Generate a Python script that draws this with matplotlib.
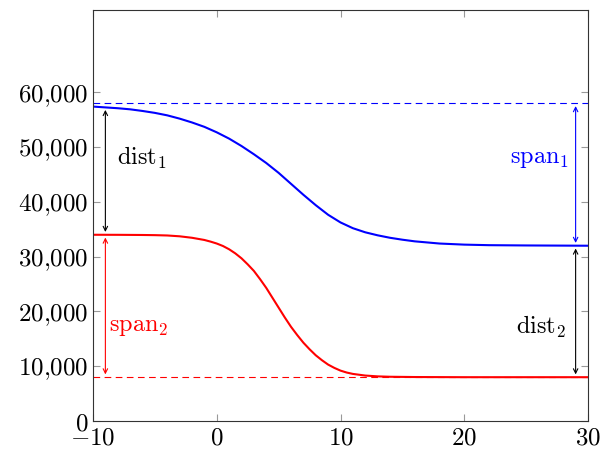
import matplotlib
matplotlib.use("Agg")
import matplotlib.pyplot as plt
from matplotlib.ticker import FuncFormatter

plt.rcParams.update({
    "font.family": "serif",
    "font.serif": ["DejaVu Serif"],
    "mathtext.fontset": "cm",
    "font.size": 18,
})

# curves
x_blue = [-10, -9, -8, -7, -6, -5, -4, -3, -2, -1, 0, 1, 2, 3, 4, 5, 6, 7, 8, 9, 10,
          11, 12, 13, 14, 15, 16, 18, 20, 22, 25, 30]
y_blue = [57400, 57250, 57100, 56900, 56600, 56250, 55800, 55200, 54500, 53700, 52700,
          51550, 50200, 48700, 47100, 45300, 43300, 41300, 39400, 37650, 36250,
          35200, 34450, 33900, 33450, 33100, 32800, 32400, 32200, 32100, 32050, 32000]

x_red = [-10, -8, -6, -5, -4, -3, -2, -1, -0.5, 0, 0.5, 1, 1.5, 2, 2.5, 3, 3.5, 4, 4.5, 5,
         5.5, 6, 6.5, 7, 7.5, 8, 8.5, 9, 9.5, 10, 10.5, 11, 12, 13, 14, 16, 20, 30]
y_red = [34000, 33990, 33960, 33930, 33870, 33720, 33450, 33050, 32750, 32400, 31950,
         31350, 30600, 29700, 28600, 27400, 25900, 24300, 22500, 20700, 18900, 17200,
         15700, 14300, 13100, 12000, 11100, 10300, 9700, 9200, 8850, 8600, 8300, 8150,
         8080, 8030, 8000, 8000]

blue_ref = 58000
red_ref = 8000

# arrows: (x, y_start, y_end, colour)
arrows = [
    (-9, 57300, 34000, "black"),   # dist1
    (-9, 34000, 8000, "red"),      # span2
    (29, 58000, 32000, "blue"),    # span1
    (29, 32000, 8000, "black"),    # dist2
]
labels = [
    (-8.1, 48000, r"$\mathrm{dist}_1$", "black", "left"),
    (-8.7, 17200, r"$\mathrm{span}_2$", "red", "left"),
    (28.5, 48000, r"$\mathrm{span}_1$", "blue", "right"),
    (28.2, 17200, r"$\mathrm{dist}_2$", "black", "right"),
]

xticks = [-10, 0, 10, 20, 30]
yticks = [0, 10000, 20000, 30000, 40000, 50000, 60000]

fig = plt.figure(figsize=(6, 4.5), dpi=100)
ax = fig.add_axes([0.155, 0.0644, 0.825, 0.913])

ax.axhline(blue_ref, color="blue", lw=0.8, dashes=(6, 4))
ax.axhline(red_ref, color="red", lw=0.8, dashes=(6, 4))
ax.plot(x_blue, y_blue, color="blue", lw=1.5)
ax.plot(x_red, y_red, color="red", lw=1.5)

for xa, y0, y1, c in arrows:
    ax.annotate("", xy=(xa, y1), xytext=(xa, y0),
                arrowprops=dict(arrowstyle="<->", color=c, lw=0.8,
                                shrinkA=2, shrinkB=2, mutation_scale=8))
for xt, yt, s, c, ha in labels:
    ax.text(xt, yt, s, color=c, ha=ha, va="center", fontsize=17.5)

ax.set_xlim(-10, 30)
ax.set_ylim(0, 75000)
ax.set_xticks(xticks)
ax.set_yticks(yticks)
ax.xaxis.set_major_formatter(FuncFormatter(lambda v, p: r"$%d$" % v if v >= 0 else r"$-%d$" % -v))
ax.yaxis.set_major_formatter(FuncFormatter(lambda v, p: r"$%s$" % f"{int(v):,}".replace(",", "{,}")))
ax.tick_params(direction="in", length=5, width=0.8, color="#999999",
               top=True, right=True, labelsize=18, pad=3)
ax.tick_params(axis="x", pad=4)
for sp in ax.spines.values():
    sp.set_linewidth(0.8)
    sp.set_color("#333333")

fig.savefig("out.png", dpi=100)
